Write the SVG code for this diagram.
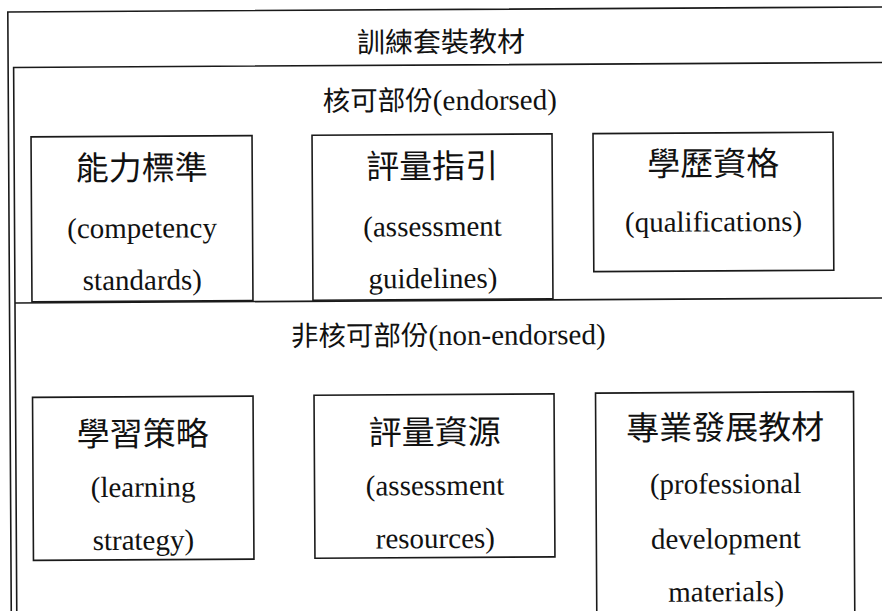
<svg xmlns="http://www.w3.org/2000/svg" width="882" height="611" viewBox="0 0 882 611">
<style>
.ln{fill:none;stroke:#1a1a1a;stroke-width:1.6}
.bx{fill:#fff;stroke:#1a1a1a;stroke-width:1.6}
text{fill:#111;text-anchor:middle}
.lat{font-family:"Liberation Serif","Times New Roman",serif;font-size:29px}
.cjk{font-family:"Noto Sans CJK TC","Noto Sans CJK SC",sans-serif;font-size:33px}
.hcjk{font-family:"Noto Sans CJK TC","Noto Sans CJK SC",sans-serif;font-size:27.5px}
</style>
<rect width="882" height="611" fill="#fff"/>
<g transform="rotate(-0.33 441 305)">
<g id="frame-package">
<path class="ln" d="M9.5 640 V9.5 H900"/>
<text x="442.5" y="52" class="hcjk" style="font-size:28px">訓練套裝教材</text>
</g>
<g id="frame-endorsed">
<path class="ln" d="M15 640 V65 H900"/>
<text x="441" y="110"><tspan class="hcjk">核可部份</tspan><tspan class="lat">(endorsed)</tspan></text>
</g>
<g id="frame-non-endorsed">
<path class="ln" d="M15 300.5 H900"/>
<text x="448" y="345"><tspan class="hcjk">非核可部份</tspan><tspan class="lat">(non-endorsed)</tspan></text>
</g>
<g id="competency-standards">
<rect class="bx" x="32" y="134.5" width="221" height="165"/>
<text x="142.5" y="178" class="cjk">能力標準</text>
<text x="142.5" y="236" class="lat">(competency</text>
<text x="142.5" y="288" class="lat">standards)</text>
</g>
<g id="assessment-guidelines">
<rect class="bx" x="313" y="134.5" width="240" height="165"/>
<text x="433" y="178" class="cjk">評量指引</text>
<text x="433" y="236" class="lat">(assessment</text>
<text x="433" y="288" class="lat">guidelines)</text>
</g>
<g id="qualifications">
<rect class="bx" x="594" y="134.5" width="240" height="138"/>
<text x="714" y="177" class="cjk">學歷資格</text>
<text x="714" y="233" class="lat">(qualifications)</text>
</g>
<g id="learning-strategy">
<rect class="bx" x="32" y="395" width="220.5" height="163"/>
<text x="142" y="444" class="cjk">學習策略</text>
<text x="142" y="495" class="lat">(learning</text>
<text x="142" y="548" class="lat">strategy)</text>
</g>
<g id="assessment-resources">
<rect class="bx" x="313.5" y="394.5" width="240" height="163"/>
<text x="434" y="444" class="cjk">評量資源</text>
<text x="434" y="495" class="lat">(assessment</text>
<text x="434" y="548" class="lat">resources)</text>
</g>
<g id="professional-development-materials">
<path class="ln" d="M595 640 V394 H853 V640"/>
<text x="724.5" y="441" class="cjk">專業發展教材</text>
<text x="724.5" y="495" class="lat">(professional</text>
<text x="724.5" y="550" class="lat">development</text>
<text x="724.5" y="603" class="lat">materials)</text>
</g>
<g id="connectors"/>
</g>
</svg>
